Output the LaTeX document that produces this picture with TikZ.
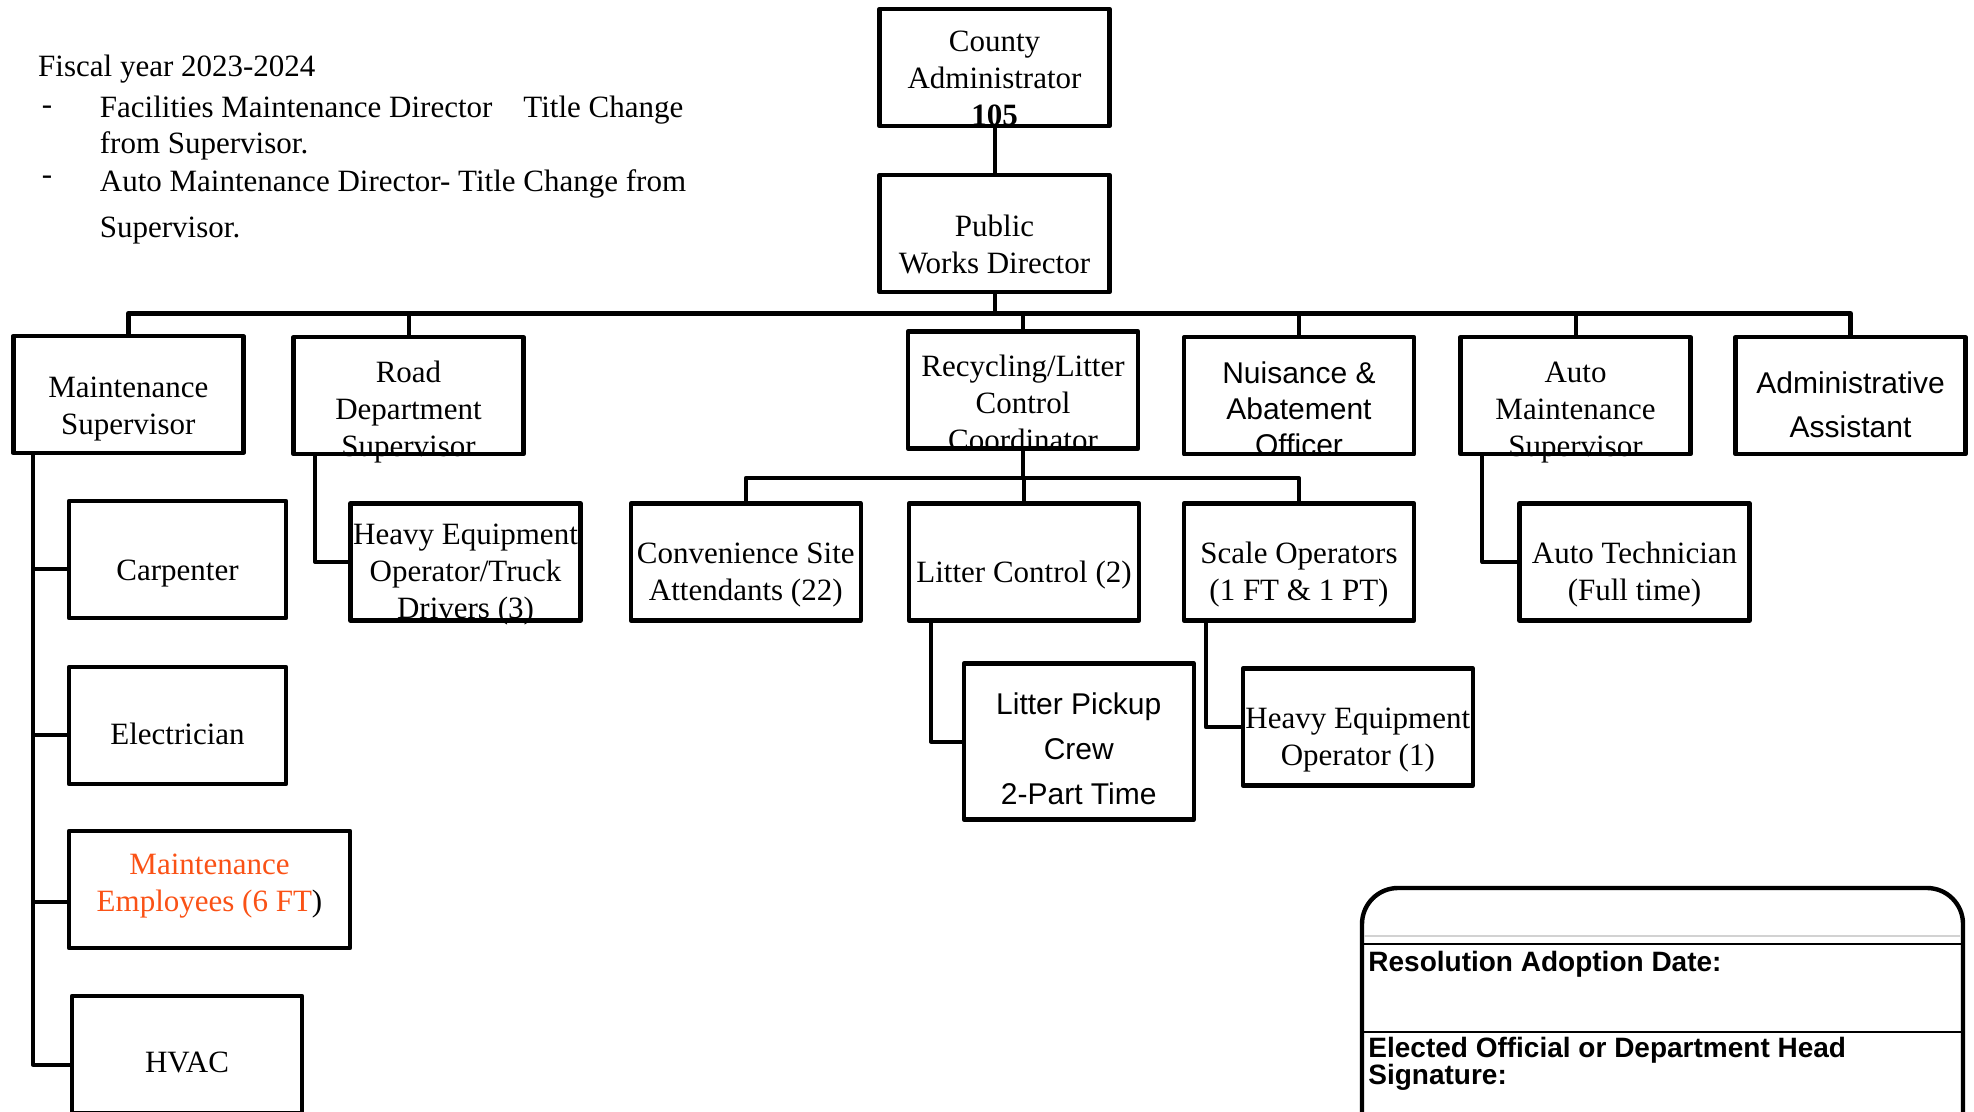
\documentclass[tikz,border=0pt]{standalone}
\usepackage{fontspec}
\setmainfont{Liberation Serif}
\setsansfont{Liberation Sans}
\usetikzlibrary{calc}
\definecolor{memporange}{RGB}{250,82,22}
\tikzset{
  orgbox/.style={draw, line width=2.2pt, minimum width=115pt, minimum height=58.5pt, inner sep=0pt},
  boxtext/.style={align=center, inner sep=0pt, yshift=-6.5pt, font=\fontsize{15.5}{18.5}\selectfont},
  sanstext/.style={boxtext, font=\sffamily\fontsize{15}{18}\selectfont},
  link/.style={line width=2pt},
  note/.style={anchor=west, inner sep=0pt, font=\fontsize{15.5}{18.5}\selectfont},
  sig/.style={anchor=west, inner sep=0pt, align=left, font=\sffamily\bfseries\fontsize{14}{13.5}\selectfont},
}
\begin{document}
\begin{tikzpicture}[x=0.5pt, y=-0.5pt, line join=round]
\useasboundingbox (0,0) rectangle (1974,1112);
\clip (0,0) rectangle (1974,1112);

% fiscal year note
\node[note] (fy) at (37.8,69.5) {Fiscal year 2023-2024};
\node[note] (dash a) at (41.5,109.8) {-};
\node[note] (fmd) at (99.5,109.8) {Facilities Maintenance Director\hspace{1em}Title Change};
\node[note] (fmd2) at (99.5,146.3) {from Supervisor.};
\node[note] (dash b) at (41.5,180) {-};
\node[note] (amd) at (99.5,184) {Auto Maintenance Director- Title Change from};
\node[note] (amd2) at (99.5,230.6) {Supervisor.};

% boxes
\node[orgbox] (ca) at (994.5,67.5) {};
\node[orgbox] (pwd) at (994.5,233.5) {};
\node[orgbox] (ms) at (128.3,394.5) {};
\node[orgbox] (rds) at (408.5,395.75) {};
\node[orgbox] (rlc) at (1023,390) {};
\node[orgbox] (nao) at (1299,395.75) {};
\node[orgbox] (ams) at (1575.5,395.75) {};
\node[orgbox] (aa) at (1850.5,395.75) {};
\node[orgbox, minimum width=108.5pt] (carp) at (177.5,559.5) {};
\node[orgbox] (heot) at (465.5,562) {};
\node[orgbox] (csa) at (745.75,562) {};
\node[orgbox] (lc) at (1024,562) {};
\node[orgbox] (so) at (1299,562) {};
\node[orgbox] (atech) at (1634.5,562) {};
\node[orgbox, minimum width=108.5pt] (elec) at (177.5,725.5) {};
\node[orgbox, minimum width=140.5pt] (memp) at (209.5,889.5) {};
\node[orgbox] (hvac) at (187,1054.5) {};
\node[orgbox, minimum height=78pt] (lpc) at (1078.75,741.5) {};
\node[orgbox] (heo) at (1357.8,727) {};

% box texts
\node[boxtext, yshift=1pt] (ca text) at (ca) {County\\Administrator\\\textbf{105}};
\node[boxtext, yshift=1pt] (pwd text) at (pwd) {Public\\Works Director};
\node[boxtext, yshift=-1pt] (ms text) at (ms) {Maintenance\\Supervisor};
\node[boxtext, yshift=-1.5pt] (rds text) at (rds) {Road\\Department\\Supervisor};
\node[boxtext] (rlc text) at (rlc) {Recycling/Litter\\Control\\Coordinator};
\node[sanstext] (nao text) at (nao) {Nuisance \&\\Abatement\\Officer};
\node[boxtext, yshift=-2pt] (ams text) at (ams) {Auto\\Maintenance\\Supervisor};
\node[sanstext, font=\sffamily\fontsize{15}{22}\selectfont, yshift=2.1pt] (aa text) at (aa) {Administrative\\Assistant};
\node[boxtext, yshift=-0.5pt] (carp text) at (carp) {Carpenter};
\node[boxtext] (heot text) at (heot) {Heavy Equipment\\Operator/Truck\\Drivers (3)};
\node[boxtext] (csa text) at (csa) {Convenience Site\\Attendants (22)};
\node[boxtext] (lc text) at (lc) {Litter Control (2)};
\node[boxtext] (so text) at (so) {Scale Operators\\(1 FT \& 1 PT)};
\node[boxtext] (atech text) at (atech) {Auto Technician\\(Full time)};
\node[boxtext, yshift=2.5pt] (elec text) at (elec) {Electrician};
\node[boxtext, yshift=8.4pt, text=memporange] (memp text) at (memp)
  {Maintenance\\Employees (6 FT\textcolor{black}{)}};
\node[boxtext, yshift=2.5pt] (hvac text) at (hvac) {HVAC};
\node[sanstext, font=\sffamily\fontsize{15}{22.5}\selectfont, yshift=2.7pt] (lpc text) at (lpc)
  {Litter Pickup\\Crew\\2-Part Time};
\node[boxtext] (heo text) at (heo) {Heavy Equipment\\Operator (1)};

% connectors
\coordinate (bus) at (998,313.5);
\coordinate (sub) at (1024,478);
\draw[link] (ca.south) -- (pwd.north);
\draw[link] (pwd.south) -- (pwd.south |- bus);
\draw[link, line width=2.5pt] (ms.north) |- (bus) -| (aa.north);
\foreach \n in {rds,rlc,nao,ams}
  \draw[link] (\n.north) -- (\n.north |- bus);
\draw[link] (rlc.south) -- (rlc.south |- sub);
\draw[link] (csa.north) |- (sub) -| (so.north);
\draw[link] (lc.north) -- (lc.north |- sub);

\coordinate (ms spine) at ($(ms.south west)+(22,0)$);
\draw[link] (ms spine) |- (hvac.185);
\foreach \n in {carp,elec,memp}
  \draw[link] (\n.185) -- (\n.185 -| ms spine);
\foreach \p/\c in {rds/heot,lc/lpc,so/heo,ams/atech}
  \draw[link] ($(\p.south west)+(24,0)$) |- (\c.west);

% signature block
\draw[line width=2.2pt, rounded corners=18pt] (1362,1130) -- (1362,888) -- (1963,888) -- (1963,1130);
\draw[gray!35, line width=1pt] (1364,936) -- (1960,936);
\draw[line width=1.4pt] (1362,944) -- (1962,944);
\draw[line width=1.4pt] (1362,1032) -- (1962,1032);
\node[sig] (rad) at (1368,964) {Resolution Adoption Date:};
\node[sig] (eod) at (1368,1064) {Elected Official or Department Head\\Signature:};
\end{tikzpicture}
\end{document}
